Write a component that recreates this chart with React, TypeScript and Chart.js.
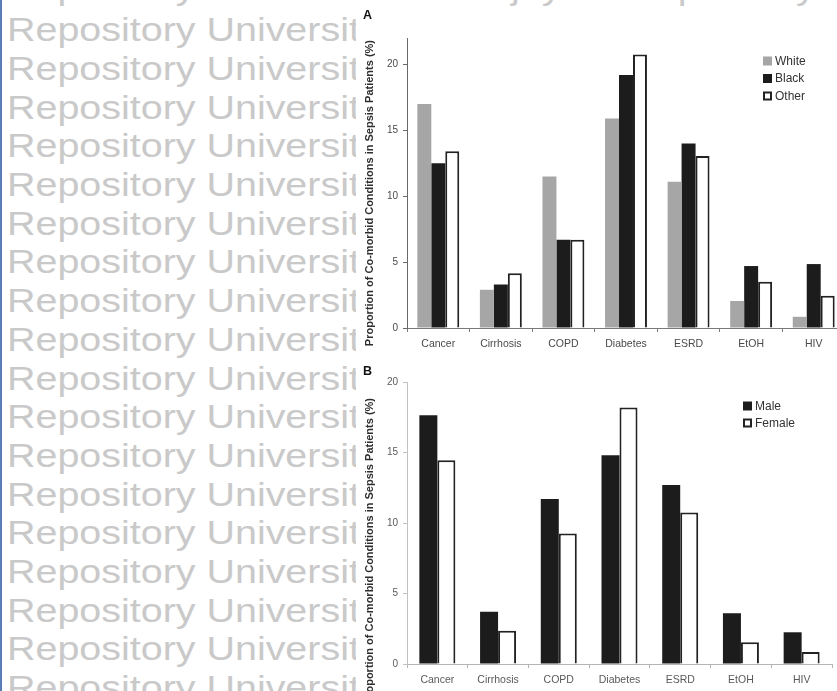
import { useEffect, useRef } from "react";
import { Chart, registerables } from "chart.js";

Chart.register(...registerables);

const FONT = "'Liberation Sans', Arial, Helvetica, sans-serif";

// Co-morbid conditions shown on the x axis of both panels
const conditions = ["Cancer", "Cirrhosis", "COPD", "Diabetes", "ESRD", "EtOH", "HIV"];

// Panel A: proportion (%) by race
const whitePct = [17.0, 2.9, 11.5, 15.9, 11.1, 2.05, 0.85];
const blackPct = [12.5, 3.3, 6.7, 19.2, 14.0, 4.7, 4.85];
const otherPct = [13.4, 4.15, 6.7, 20.75, 13.05, 3.5, 2.45];

// Panel B: proportion (%) by sex
const malePct = [17.65, 3.7, 11.7, 14.8, 12.7, 3.6, 2.25];
const femalePct = [14.45, 2.35, 9.25, 18.2, 10.75, 1.55, 0.85];

// Value axis ticks
const yTicksA = [0, 5, 10, 15, 20];
const yTicksB = [0, 5, 10, 15, 20];

const yAxisTitle = "Proportion of Co-morbid Conditions in Sepsis Patients (%)";
const watermarkText = "Repository Universitas Brawijaya";
const watermarkTopText = "Repository Universitas Brawijaya    Repository Universitas Brawijaya";

// Legend drawn inside the plot area, one row per dataset
const insetLegend = {
  id: "insetLegend",
  afterDraw(chart: any, _args: any, opts: any) {
    const { ctx, chartArea } = chart;
    ctx.save();
    ctx.font = `12px ${FONT}`;
    ctx.textBaseline = "middle";
    ctx.textAlign = "left";
    chart.data.datasets.forEach((ds: any, i: number) => {
      const x = chartArea.left + opts.dx;
      const cy = chartArea.top + opts.dy + i * opts.rowGap;
      const s = opts.box;
      const top = cy - s / 2;
      const bw = ds.borderWidth || 0;
      if (bw > 0) {
        ctx.fillStyle = ds.borderColor;
        ctx.fillRect(x, top, s, s);
        ctx.fillStyle = ds.backgroundColor;
        ctx.fillRect(x + bw, top + bw, s - 2 * bw, s - 2 * bw);
      } else {
        ctx.fillStyle = ds.backgroundColor;
        ctx.fillRect(x, top, s, s);
      }
      ctx.fillStyle = opts.color;
      ctx.fillText(ds.label, x + s + 3, cy + 0.5);
    });
    ctx.restore();
  },
};

// Rotated value-axis caption, anchored by its upper end
const sideCaption = {
  id: "sideCaption",
  afterDraw(chart: any, _args: any, opts: any) {
    const { ctx, chartArea } = chart;
    ctx.save();
    ctx.translate(opts.x, chartArea.top + opts.dy);
    ctx.rotate(-Math.PI / 2);
    ctx.font = `bold 11px ${FONT}`;
    ctx.fillStyle = opts.color;
    ctx.textAlign = "right";
    ctx.textBaseline = "middle";
    ctx.fillText(opts.text, 0, 0);
    ctx.restore();
  },
};

type Series = { label: string; data: number[]; fill: string; edge: string; edgeWidth: number };
type PanelSpec = {
  series: Series[];
  groupFrac: number;
  yMax: number;
  yTicks: number[];
  padTop: number;
  padRight: number;
  xAxisHeight: number;
  yAxisWidth: number;
  axisColorX: string;
  axisColorY: string;
  tickLabelColor: string;
  legend: { dx: number; dy: number; rowGap: number; box: number };
  captionDy: number;
};

function makeConfig(p: PanelSpec): any {
  return {
    type: "bar",
    data: {
      labels: conditions,
      datasets: p.series.map((s) => ({
        label: s.label,
        data: s.data,
        backgroundColor: s.fill,
        borderColor: s.edge,
        borderWidth: s.edgeWidth,
        borderSkipped: "start",
        categoryPercentage: p.groupFrac,
        barPercentage: 1,
      })),
    },
    options: {
      responsive: false,
      animation: false,
      devicePixelRatio: 1,
      layout: { padding: { left: 0, top: p.padTop, right: p.padRight, bottom: 0 } },
      plugins: {
        legend: { display: false },
        tooltip: { enabled: false },
        insetLegend: { ...p.legend, color: "#333333" },
        sideCaption: { text: yAxisTitle, x: 12, dy: p.captionDy, color: "#2e2e2e" },
      },
      scales: {
        x: {
          offset: true,
          grid: {
            display: true,
            offset: true,
            drawOnChartArea: false,
            drawTicks: true,
            tickLength: 4,
            color: p.axisColorX,
          },
          border: { display: true, color: p.axisColorX, width: 1 },
          ticks: {
            color: p.tickLabelColor,
            font: { family: FONT, size: 10.5 },
            padding: 6,
            maxRotation: 0,
            autoSkip: false,
          },
          afterFit: (s: any) => {
            s.height = p.xAxisHeight;
          },
        },
        y: {
          min: 0,
          max: p.yMax,
          grid: {
            display: true,
            drawOnChartArea: false,
            drawTicks: true,
            tickLength: 4,
            color: p.axisColorY,
          },
          border: { display: true, color: p.axisColorY, width: 1 },
          ticks: {
            color: p.tickLabelColor,
            font: { family: FONT, size: 10 },
            padding: 5,
          },
          afterBuildTicks: (s: any) => {
            s.ticks = p.yTicks.map((v) => ({ value: v }));
          },
          afterFit: (s: any) => {
            s.width = p.yAxisWidth;
          },
        },
      },
    },
    plugins: [insetLegend, sideCaption],
  };
}

const panelA: PanelSpec = {
  series: [
    { label: "White", data: whitePct, fill: "#a6a6a6", edge: "#a6a6a6", edgeWidth: 0 },
    { label: "Black", data: blackPct, fill: "#1c1c1c", edge: "#1c1c1c", edgeWidth: 0 },
    { label: "Other", data: otherPct, fill: "#ffffff", edge: "#222222", edgeWidth: 2 },
  ],
  groupFrac: 0.67,
  yMax: 22,
  yTicks: yTicksA,
  padTop: 38,
  padRight: 13,
  xAxisHeight: 30,
  yAxisWidth: 49,
  axisColorX: "#7a7a7a",
  axisColorY: "#6a6a6a",
  tickLabelColor: "#4a4a4a",
  legend: { dx: 356, dy: 23, rowGap: 17.5, box: 9 },
  captionDy: 2,
};

const panelB: PanelSpec = {
  series: [
    { label: "Male", data: malePct, fill: "#1c1c1c", edge: "#1c1c1c", edgeWidth: 0 },
    { label: "Female", data: femalePct, fill: "#ffffff", edge: "#222222", edgeWidth: 2 },
  ],
  groupFrac: 0.593,
  yMax: 20,
  yTicks: yTicksB,
  padTop: 24,
  padRight: 26,
  xAxisHeight: 27,
  yAxisWidth: 49,
  axisColorX: "#b4b4b4",
  axisColorY: "#c2c2c2",
  tickLabelColor: "#5a5a5a",
  legend: { dx: 336, dy: 24, rowGap: 17, box: 9 },
  captionDy: 16,
};

function BarPanel({ spec, left, top, width, height }: { spec: PanelSpec; left: number; top: number; width: number; height: number }) {
  const ref = useRef<HTMLCanvasElement | null>(null);
  useEffect(() => {
    if (!ref.current) return;
    const chart = new Chart(ref.current, makeConfig(spec));
    return () => chart.destroy();
  }, [spec]);
  return (
    <canvas
      ref={ref}
      width={width}
      height={height}
      style={{ position: "absolute", left, top, width, height, display: "block" }}
    />
  );
}

const WM_SIZE = 34;
const WM_BASE = 41;
const WM_STEP = 38.7;
const WM_TOP_BASE = -1.5;
const WM_ASC = 0.846 * WM_SIZE;

const wmStyle: any = {
  position: "absolute",
  left: 7,
  fontFamily: FONT,
  fontSize: WM_SIZE,
  lineHeight: 1,
  whiteSpace: "pre",
  color: "#c9c9c9",
  transform: "scaleX(1.16)",
  transformOrigin: "0 0",
};

export default function App() {
  const rows = Array.from({ length: 18 }, (_, i) => i + 1);
  return (
    <div
      style={{
        position: "fixed",
        left: 0,
        top: 0,
        width: 837,
        height: 691,
        overflow: "hidden",
        background: "#ffffff",
      }}
    >
      <div style={{ ...wmStyle, top: WM_TOP_BASE - WM_ASC }}>{watermarkTopText}</div>
      <div style={{ position: "absolute", left: 0, top: 0, width: 356, height: 691, overflow: "hidden" }}>
        {rows.map((k) => (
          <div key={k} style={{ ...wmStyle, top: WM_BASE + WM_STEP * (k - 1) - WM_ASC }}>
            {watermarkText}
          </div>
        ))}
      </div>
      <div style={{ position: "absolute", left: 0, top: 0, width: 2, height: 691, background: "#5b7bb5" }} />

      <BarPanel spec={panelA} left={358} top={0} width={500} height={358} />
      <BarPanel spec={panelB} left={358} top={358} width={500} height={333} />

      <div style={{ position: "absolute", left: 363, top: 9, fontFamily: FONT, fontWeight: "bold", fontSize: 12.5, lineHeight: 1, color: "#111" }}>A</div>
      <div style={{ position: "absolute", left: 363, top: 365, fontFamily: FONT, fontWeight: "bold", fontSize: 12.5, lineHeight: 1, color: "#111" }}>B</div>
    </div>
  );
}
